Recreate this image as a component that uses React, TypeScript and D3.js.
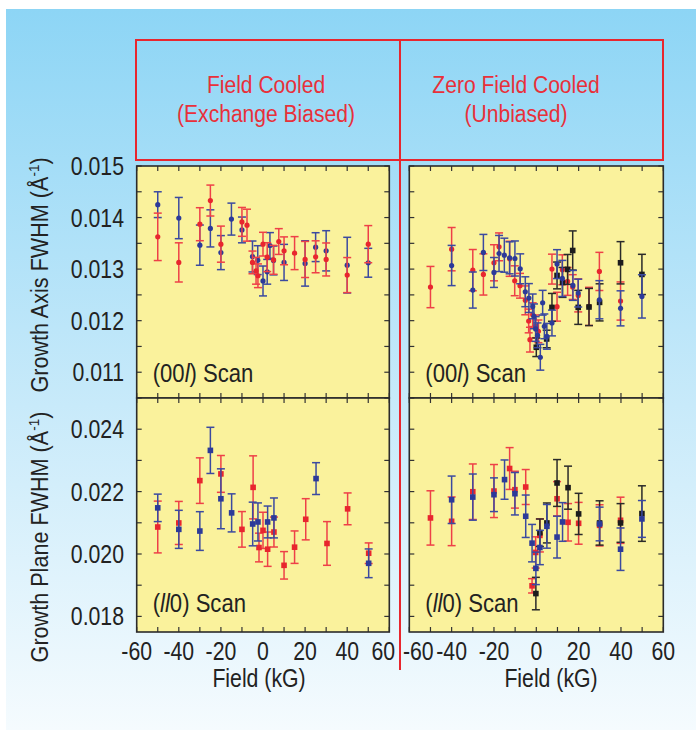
import * as d3 from "d3";
import { useEffect, useRef } from "react";

// each point: [field (kG), FWHM (1/Å), error]
const fcAxisBlue = [
  [-50, 0.01425, 0.00025], [-40, 0.01399, 0.0004], [-30, 0.013465, 0.00039], [-25, 0.01379, 0.00036],
  [-20, 0.01332, 0.00033], [-15, 0.01397, 0.00031], [-10, 0.01376, 0.00025], [-5, 0.013245, 0.0003],
  [-2.5, 0.013174, 0.00028], [0, 0.01277, 0.00029], [2, 0.012948, 0.00024], [3.3, 0.013458, 0.00025],
  [5, 0.013168, 0.00028], [10, 0.01313, 0.00035], [20, 0.01311, 0.00044], [25, 0.013426, 0.00028],
  [30, 0.013355, 0.00039], [40, 0.013077, 0.00054], [50, 0.013123, 0.00028],
];
const fcAxisRed = [
  [-50, 0.013626, 0.00046], [-40, 0.01313, 0.00038], [-30, 0.013871, 0.00032], [-25, 0.01433, 0.0003],
  [-20, 0.013484, 0.00035], [-10, 0.013916, 0.00028], [-7.6, 0.013852, 0.00031], [-5, 0.01313, 0.00022],
  [-3.3, 0.012968, 0.00026], [-2.4, 0.012871, 0.00023], [0, 0.013484, 0.00023], [2, 0.013232, 0.00028],
  [5, 0.01318, 0.00028], [7.5, 0.013535, 0.00025], [10, 0.013355, 0.00027], [15, 0.01331, 0.00032],
  [20, 0.013187, 0.00035], [25, 0.013239, 0.00031], [30, 0.013187, 0.00032], [40, 0.012884, 0.00034],
  [50, 0.013484, 0.00036],
];
const zfcAxisRed = [
  [-50, 0.012652, 0.0004], [-40, 0.013387, 0.00042], [-30, 0.01298, 0.0004], [-25, 0.012897, 0.0004],
  [-20, 0.013123, 0.00035], [-17.6, 0.013432, 0.00027], [-12.6, 0.0132, 0.00034], [-10.2, 0.012774, 0.00029],
  [-7.7, 0.012677, 0.00024], [-5.2, 0.012394, 0.00028], [-3.6, 0.011994, 0.00023], [-3, 0.011632, 0.00024],
  [-1.7, 0.012116, 0.00023], [-0.3, 0.01189, 0.00022], [1, 0.011793, 0.00022], [7.4, 0.013, 0.00029],
  [9.8, 0.012271, 0.00028], [12.3, 0.012987, 0.00029], [14.8, 0.012761, 0.00027], [17.2, 0.012652, 0.00024],
  [19.8, 0.01249, 0.00032], [24.9, 0.012277, 0.00037], [29.8, 0.012955, 0.00037], [39.8, 0.012381, 0.00037],
];
const zfcAxisBlue = [
  [-40, 0.01307, 0.00039], [-30, 0.012594, 0.00035], [-25, 0.013323, 0.00035], [-20, 0.012935, 0.00029],
  [-17.6, 0.013303, 0.00035], [-15.1, 0.01327, 0.00033], [-12.6, 0.013219, 0.00031], [-10.1, 0.013206, 0.00034],
  [-7.6, 0.013006, 0.00029], [-5.2, 0.012561, 0.00029], [-3.5, 0.012439, 0.00028], [-1.7, 0.012277, 0.00024],
  [-1.1, 0.012084, 0.00024], [-0.3, 0.011839, 0.00024], [0.6, 0.011716, 0.00024], [1.9, 0.01129, 0.00025],
  [3, 0.012348, 0.00024], [3.8, 0.01189, 0.00024], [5, 0.011697, 0.00025], [7.4, 0.011955, 0.00025],
  [9.8, 0.013097, 0.00028], [12.3, 0.012819, 0.00035], [17.3, 0.012684, 0.00029], [19.8, 0.012535, 0.00027],
  [29.8, 0.012406, 0.00037], [39.8, 0.012239, 0.00034], [49.9, 0.012471, 0.00042],
];
const zfcAxisBlack = [
  [0, 0.011484, 0.00018], [4.9, 0.011645, 0.00017], [7.4, 0.012258, 0.00027], [9.8, 0.012877, 0.00026],
  [12.4, 0.012742, 0.00029], [14.8, 0.012994, 0.00029], [17.2, 0.013361, 0.00038], [19.8, 0.012258, 0.00033],
  [24.9, 0.012265, 0.00036], [29.9, 0.012355, 0.00036], [39.8, 0.013123, 0.00041], [49.9, 0.012897, 0.00039],
];
const fcPlaneBlue = [
  [-50, 0.021479, 0.00044], [-40, 0.02079, 0.00061], [-30, 0.020736, 0.00062], [-25, 0.023321, 0.00074],
  [-20, 0.02177, 0.00096], [-14.9, 0.021318, 0.00061], [-4.9, 0.020962, 0.0007], [-2.4, 0.021027, 0.00061],
  [2.2, 0.021027, 0.00051], [5.2, 0.021156, 0.00064], [25.2, 0.022417, 0.00051], [50.2, 0.019702, 0.00046],
];
const fcPlaneRed = [
  [-50, 0.020865, 0.00083], [-40, 0.020995, 0.00069], [-30, 0.022352, 0.00073], [-20, 0.022567, 0.00059],
  [-10, 0.02079, 0.00057], [-4.7, 0.022136, 0.00101], [-1.9, 0.020208, 0.00046], [0, 0.020758, 0.00058],
  [2.2, 0.020154, 0.00055], [5.2, 0.020704, 0.00048], [10, 0.019637, 0.00044], [15, 0.020219, 0.00052],
  [20.3, 0.021113, 0.00066], [30.4, 0.020338, 0.0007], [40.2, 0.021447, 0.00051], [50.2, 0.020025, 0.00033],
];
const zfcPlaneRed = [
  [-50, 0.021156, 0.00087], [-40, 0.021048, 0.00078], [-30, 0.021996, 0.00089], [-20, 0.022018, 0.00085],
  [-12.6, 0.02274, 0.00067], [-10.1, 0.022061, 0.00059], [-5, 0.022147, 0.00056], [-2, 0.01898, 0.00023],
  [-0.3, 0.02005, 0.0005], [1.7, 0.020596, 0.00053], [9.8, 0.02177, 0.00055], [15, 0.021016, 0.0006],
  [20, 0.020984, 0.00067], [29.9, 0.020919, 0.00066], [39.8, 0.021081, 0.00074],
];
const zfcPlaneBlue = [
  [-40, 0.021738, 0.00076], [-30, 0.021824, 0.00074], [-20, 0.0219, 0.00054], [-15, 0.022384, 0.00063],
  [-10.1, 0.021932, 0.00068], [-5, 0.02121, 0.00068], [-2, 0.020348, 0.0006], [-0.2, 0.01954, 0.00052],
  [1.7, 0.020208, 0.00055], [5, 0.020887, 0.0007], [9.8, 0.020542, 0.00067], [12.4, 0.021027, 0.00062],
  [29.9, 0.020962, 0.00054], [39.8, 0.020154, 0.00068], [49.9, 0.021124, 0.00059],
];
const zfcPlaneBlack = [
  [-0.2, 0.018732, 0.00052], [1.7, 0.020682, 0.00044], [5, 0.020995, 0.00064], [9.8, 0.022276, 0.00075],
  [15, 0.022126, 0.00069], [20, 0.021285, 0.00066], [29.9, 0.020995, 0.00071], [39.8, 0.020995, 0.00062],
  [49.9, 0.021296, 0.00089],
];

const xTickLabels = [-60, -40, -20, 0, 20, 40, 60];
const axisTickLabels = [0.015, 0.014, 0.013, 0.012, 0.011];
const planeTickLabels = [0.024, 0.022, 0.020, 0.018];

const RED = "#e8262e";
const BLUE = "#2c3a99";
const BLACK = "#1c1c1c";
const FONT = "'Liberation Sans', Arial, sans-serif";
const SX = 0.85; // condensed look

// text squeezed horizontally, since no narrow face is installed
function label(parent, x, y, size, opts = {}) {
  const rot = opts.rotate ? ` rotate(${opts.rotate})` : "";
  return parent.append("text")
    .attr("transform", `translate(${x},${y})${rot} scale(${opts.sx || SX},1)`)
    .attr("text-anchor", opts.anchor || "start")
    .attr("font-family", FONT)
    .attr("font-size", size)
    .attr("fill", opts.fill || "#222");
}

export default function App() {
  const ref = useRef(null);

  useEffect(() => {
    const svg = d3.select(ref.current);
    svg.selectAll("*").remove();

    const defs = svg.append("defs");
    const grad = defs.append("linearGradient").attr("id", "bg").attr("x1", 0).attr("y1", 0).attr("x2", 0).attr("y2", 1);
    grad.append("stop").attr("offset", "0%").attr("stop-color", "#8dd5f5");
    grad.append("stop").attr("offset", "55%").attr("stop-color", "#c8eafa");
    grad.append("stop").attr("offset", "100%").attr("stop-color", "#f5fbfe");

    svg.append("rect").attr("x", 6).attr("y", 9).attr("width", 690).attr("height", 721).attr("fill", "url(#bg)");

    const xLeft = d3.scaleLinear().domain([-60, 60]).range([136.7, 389.3]);
    const xRight = d3.scaleLinear().domain([-60, 60]).range([409.3, 663.3]);
    const yAxis = d3.scaleLinear().domain([0.0105, 0.015]).range([398, 166]);
    const yPlane = d3.scaleLinear().domain([0.0175, 0.025]).range([632, 398]);

    // header
    svg.append("rect").attr("x", 136).attr("y", 40).attr("width", 527).attr("height", 120)
      .attr("fill", "none").attr("stroke", RED).attr("stroke-width", 2);
    svg.append("line").attr("x1", 400).attr("x2", 400).attr("y1", 40).attr("y2", 670)
      .attr("stroke", RED).attr("stroke-width", 2);
    const header = [
      { x: 266, lines: ["Field Cooled", "(Exchange Biased)"] },
      { x: 516, lines: ["Zero Field Cooled", "(Unbiased)"] },
    ];
    header.forEach(h => {
      h.lines.forEach((t, i) => {
        label(svg, h.x, 93 + i * 29, 24.5, { anchor: "middle", fill: "#e8303a", sx: 0.86 }).text(t);
      });
    });

    const panels = [
      { x: xLeft, y: yAxis, step: 0.0005, series: [[fcAxisBlue, BLUE], [fcAxisRed, RED]], shape: "circle" },
      { x: xRight, y: yAxis, step: 0.0005, series: [[zfcAxisRed, RED], [zfcAxisBlack, BLACK], [zfcAxisBlue, BLUE]], shape: "circle" },
      { x: xLeft, y: yPlane, step: 0.001, series: [[fcPlaneRed, RED], [fcPlaneBlue, BLUE]], shape: "square" },
      { x: xRight, y: yPlane, step: 0.001, series: [[zfcPlaneRed, RED], [zfcPlaneBlack, BLACK], [zfcPlaneBlue, BLUE]], shape: "square" },
    ];

    panels.forEach(p => {
      const [x0, x1] = p.x.range();
      const [y0, y1] = p.y.range();
      const g = svg.append("g");
      g.append("rect").attr("x", x0).attr("y", y1).attr("width", x1 - x0).attr("height", y0 - y1)
        .attr("fill", "#faf29c");

      p.series.forEach(([data, color]) => {
        const s = g.append("g");
        const barColor = color === RED ? "#ee4048" : color === BLUE ? "#3b4aa0" : "#2a2a2a";
        s.selectAll("line.bar").data(data).join("line")
          .attr("x1", d => p.x(d[0])).attr("x2", d => p.x(d[0]))
          .attr("y1", d => p.y(d[1] - d[2])).attr("y2", d => p.y(d[1] + d[2]))
          .attr("stroke", barColor).attr("stroke-width", 1.5);
        [-1, 1].forEach(sign => {
          s.selectAll(null).data(data).join("line")
            .attr("x1", d => p.x(d[0]) - 4).attr("x2", d => p.x(d[0]) + 4)
            .attr("y1", d => p.y(d[1] + sign * d[2])).attr("y2", d => p.y(d[1] + sign * d[2]))
            .attr("stroke", barColor).attr("stroke-width", 1.5);
        });
        if (p.shape === "circle" && color !== BLACK) {
          s.selectAll("circle").data(data).join("circle")
            .attr("cx", d => p.x(d[0])).attr("cy", d => p.y(d[1])).attr("r", 2.6).attr("fill", color);
        } else {
          s.selectAll("rect").data(data).join("rect")
            .attr("x", d => p.x(d[0]) - 2.8).attr("y", d => p.y(d[1]) - 2.8)
            .attr("width", 5.6).attr("height", 5.6).attr("fill", color);
        }
      });

      // ticks
      const tk = g.append("g").attr("stroke", "#333").attr("stroke-width", 1.2);
      d3.range(-60, 61, 10).forEach(v => {
        tk.append("line").attr("x1", p.x(v)).attr("x2", p.x(v)).attr("y1", y0).attr("y2", y0 - 5);
        tk.append("line").attr("x1", p.x(v)).attr("x2", p.x(v)).attr("y1", y1).attr("y2", y1 + 5);
      });
      const [d0, d1] = p.y.domain();
      d3.range(Math.ceil(d0 / p.step - 1e-6), Math.floor(d1 / p.step + 1e-6) + 1).forEach(k => {
        const yy = p.y(k * p.step);
        tk.append("line").attr("x1", x0).attr("x2", x0 + 5).attr("y1", yy).attr("y2", yy);
        tk.append("line").attr("x1", x1).attr("x2", x1 - 5).attr("y1", yy).attr("y2", yy);
      });
      g.append("rect").attr("x", x0).attr("y", y1).attr("width", x1 - x0).attr("height", y0 - y1)
        .attr("fill", "none").attr("stroke", "#2b2b2b").attr("stroke-width", 1.6);

      // scan label
      const isAxis = p.y === yAxis;
      const lbl = label(g, x0 + 16, isAxis ? 382 : 612, 26);
      if (isAxis) {
        lbl.append("tspan").text("(00");
        lbl.append("tspan").attr("font-style", "italic").text("l");
        lbl.append("tspan").text(") Scan");
      } else {
        lbl.append("tspan").text("(");
        lbl.append("tspan").attr("font-style", "italic").text("ll");
        lbl.append("tspan").text("0) Scan");
      }
    });

    // y tick labels
    axisTickLabels.forEach(v => {
      label(svg, 124, yAxis(v), 25, { anchor: "end" }).attr("dy", "0.36em").text(d3.format(".3f")(v));
    });
    planeTickLabels.forEach(v => {
      label(svg, 124, yPlane(v), 25, { anchor: "end" }).attr("dy", "0.36em").text(d3.format(".3f")(v));
    });

    // x tick labels + titles; the end labels next to the divider are nudged apart
    xTickLabels.forEach(v => {
      label(svg, xLeft(v) + (v === 60 ? -6 : 0), 660, 25, { anchor: "middle" }).text(v);
      label(svg, xRight(v) + (v === -60 ? 9 : 0), 660, 25, { anchor: "middle" }).text(v);
    });
    label(svg, 259, 687, 25, { anchor: "middle" }).text("Field (kG)");
    label(svg, 551, 687, 25, { anchor: "middle" }).text("Field (kG)");

    // y titles
    const yTitles = [
      { cy: 275, label: "Growth Axis FWHM (Å" },
      { cy: 537, label: "Growth Plane FWHM (Å" },
    ];
    yTitles.forEach(t => {
      const txt = label(svg, 48, t.cy, 24, { anchor: "middle", rotate: -90, sx: 0.9 });
      txt.append("tspan").text(t.label);
      txt.append("tspan").attr("font-size", 15).attr("dy", -9).text("-1");
      txt.append("tspan").attr("dy", 9).text(")");
    });
  }, []);

  return <svg ref={ref} width={696} height={730} style={{ position: "absolute", left: 0, top: 0 }} />;
}
